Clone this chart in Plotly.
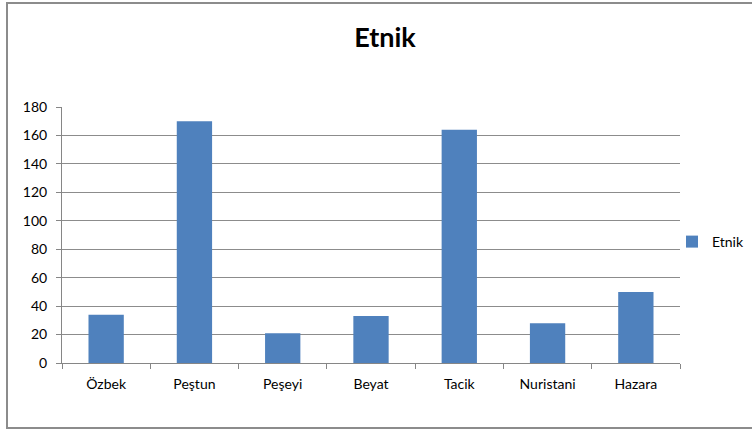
import plotly.graph_objects as go

categories = ["Özbek", "Peştun", "Peşeyi", "Beyat", "Tacik", "Nuristani", "Hazara"]
values = [34, 170, 21, 33, 164, 28, 50]
series_name = "Etnik"
y_ticks = [0, 20, 40, 60, 80, 100, 120, 140, 160, 180]

W, H = 752, 430
L, R, T, B = 62, 72, 107, 67
pw = W - L - R
ph = H - T - B

fig = go.Figure()
fig.add_trace(go.Bar(
    x=categories, y=values, name=series_name,
    marker=dict(color="#4f81bd", line=dict(color="#4f81bd", width=0)),
    showlegend=True,
))

font = "Lato, 'Open Sans', sans-serif"
fig.update_layout(
    width=W, height=H,
    margin=dict(l=L, r=R, t=T, b=B, autoexpand=False),
    paper_bgcolor="white", plot_bgcolor="white",
    bargap=0.6,
    font=dict(family=font, size=14, color="#000000"),
    title=dict(text="<b>Etnik</b>", x=385 / W, xanchor="center",
               y=1 - 38 / H, yanchor="middle",
               font=dict(family=font, size=27, color="#000000")),
    legend=dict(x=(672 - L) / pw, xanchor="left", y=(H - B - 242) / ph, yanchor="middle",
                font=dict(family=font, size=14), bgcolor="rgba(0,0,0,0)",
                itemwidth=30),
    xaxis=dict(
        type="category", showgrid=False, showline=True, linecolor="#868686", linewidth=1,
        ticks="outside", tickson="boundaries", ticklen=5, tickcolor="#868686",
        tickfont=dict(size=14, color="#000000"), range=[-0.5, 6.5],
        ticklabelstandoff=8,
    ),
    yaxis=dict(
        range=[0, 180], tickvals=y_ticks, showgrid=True, gridcolor="#8c8c8c", gridwidth=1,
        showline=True, linecolor="#868686", linewidth=1, ticks="outside", ticklen=5,
        tickcolor="#868686", tickfont=dict(size=14, color="#000000"), zeroline=False,
        ticklabelstandoff=6,
    ),
)

# outer chart border
fig.add_shape(type="rect", xref="paper", yref="paper",
              x0=(7 - L) / pw, x1=(760 - L) / pw,
              y0=(H - B - 428) / ph, y1=(H - B - 3) / ph,
              line=dict(color="#8c8c8c", width=2), fillcolor="rgba(0,0,0,0)", layer="below")

fig.write_html("out.html", config={"displayModeBar": False},
               post_script="document.body.style.margin='0px';")
